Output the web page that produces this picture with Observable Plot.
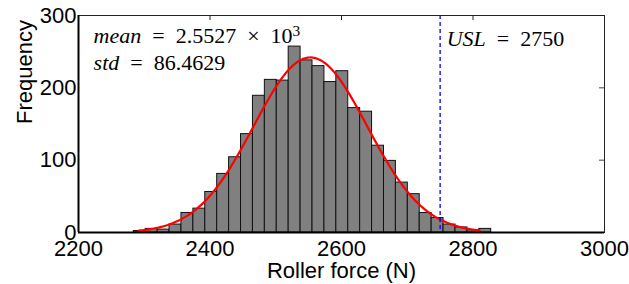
<!DOCTYPE html>
<html><head><meta charset="utf-8">
<script src="https://cdn.jsdelivr.net/npm/d3@7"></script>
<script src="https://cdn.jsdelivr.net/npm/@observablehq/plot@0.6"></script>
<style>body{margin:0;background:#fff}</style>
</head><body><div id="chart"></div>
<script>
// Histogram counts (30 equal-width bins between dataMin and dataMax)
const counts = [2,5,4,11,27,33,56,81,104,136,189,211,210,257,238,230,208,223,172,167,120,99,69,53,27,20,11,7,3,5];
const dataMin = 2284.1, dataMax = 2827.7;
// Normal fit statistics
const meanValue = 2552.7, stdValue = 86.4629;
const fitPeak = 242;            // peak height of fitted curve (counts)
const curveRange = [2292, 2810];
const usl = 2750;
const xTicks = [2200, 2400, 2600, 2800, 3000];
const yTicks = [0, 100, 200, 300];
const xLabel = "Roller force (N)";
const yLabel = "Frequency";
const sp = "\u2002";
const annotations = [
  {x: 2223, y: 261.7, parts: [["mean", "i"], [sp + "=" + sp + "2.5527" + sp + "×" + sp + "10", ""], ["3", "sup"]]},
  {x: 2223, y: 224.9, parts: [["std", "i"], [sp + "=" + sp + "86.4629", ""]]},
  {x: 2760, y: 258.5, parts: [["USL", "i"], [sp + "=" + sp + "2750", ""]]}
];

const nb = counts.length, bw = (dataMax - dataMin) / nb;
const bins = counts.map((c, i) => ({x1: dataMin + i * bw, x2: dataMin + (i + 1) * bw, count: c}));
const curve = d3.range(0, 201).map(k => {
  const x = curveRange[0] + (curveRange[1] - curveRange[0]) * k / 200;
  return {x, y: fitPeak * Math.exp(-0.5 * ((x - meanValue) / stdValue) ** 2)};
});

const W = 629, H = 284, mL = 78, mR = 25, mT = 15, mB = 52;
const plotH = H - mT - mB, plotW = W - mL - mR;
const sans = "'Liberation Sans', Arial, Helvetica, sans-serif";
const serif = "Liberation Serif";

function richText(data, opts) {
  return Plot.text(data, {
    ...opts,
    text: d => d.parts.map(p => p[0]).join(""),
    render(index, scales, values, dims, ctx, next) {
      const g = next(index, scales, values, dims, ctx);
      d3.select(g).selectAll("text").each(function(_, j) {
        const d = data[index[j]];
        const t = d3.select(this);
        t.text(null);
        for (const [s, st] of d.parts) {
          const ts = t.append("tspan").text(s);
          if (st === "i") ts.attr("font-style", "italic");
          if (st === "sup") ts.attr("dy", "-0.5em").attr("font-size", "0.7em");
        }
      });
      return g;
    }
  });
}

const chart = Plot.plot({
  width: W, height: H,
  marginLeft: mL, marginRight: mR, marginTop: mT, marginBottom: mB,
  style: {fontFamily: sans, fontSize: "22px", color: "#000", background: "#fff"},
  x: {domain: [2200, 3000]},
  y: {domain: [0, 300]},
  marks: [
    Plot.rectY(bins, {x1: "x1", x2: "x2", y: "count", fill: "#808080", stroke: "#111", strokeWidth: 1, inset: 0}),
    Plot.line(curve, {x: "x", y: "y", stroke: "#ff0000", strokeWidth: 2.2}),
    Plot.ruleX([usl], {stroke: "#0000ff", strokeWidth: 1.3, strokeDasharray: "4,3"}),
    Plot.frame({stroke: "#222", strokeWidth: 1}),
    Plot.ruleY([0], {stroke: "#000", strokeWidth: 2}),
    Plot.ruleX([2200], {stroke: "#000", strokeWidth: 2}),
    Plot.tickX(xTicks.slice(1, -1), {x: d => d, insetBottom: plotH - 5, stroke: "#222"}),
    Plot.tickY(yTicks.slice(1, -1), {y: d => d, insetLeft: plotW - 5, stroke: "#444"}),
    Plot.axisX(xTicks, {tickSize: 0, tickPadding: 8, fontSize: 22, label: null, tickFormat: d3.format("d")}),
    Plot.axisY(yTicks, {tickSize: 0, tickPadding: 2, fontSize: 22, label: null, tickFormat: d3.format("d")}),
    Plot.text([xLabel], {text: d => d, frameAnchor: "bottom", dy: 45, lineAnchor: "bottom", fontSize: 22}),
    Plot.text([yLabel], {text: d => d, frameAnchor: "left", dx: -53.5, rotate: -90, lineAnchor: "middle", fontSize: 22}),
    richText(annotations, {x: "x", y: "y", textAnchor: "start", lineAnchor: "bottom", fontSize: 22, fontFamily: serif})
  ]
});
document.getElementById("chart").appendChild(chart);
</script>
</body></html>
